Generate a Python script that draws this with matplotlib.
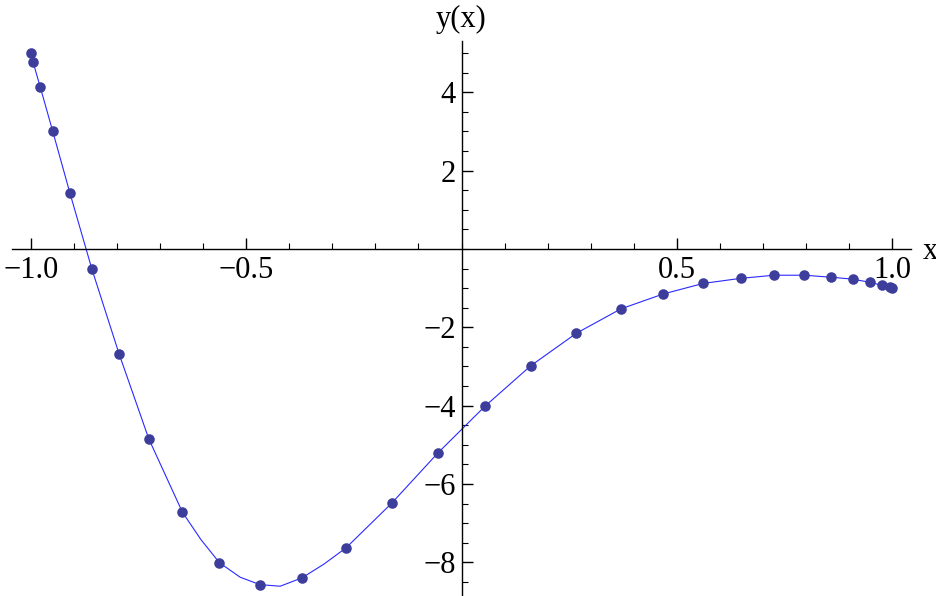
import numpy as np
import matplotlib.pyplot as plt

# sample points
x = [-1.0, -0.995, -0.978, -0.949, -0.909, -0.858, -0.795, -0.726, -0.648,
     -0.562, -0.468, -0.371, -0.268, -0.162, -0.055, 0.055, 0.161, 0.267,
     0.370, 0.468, 0.561, 0.648, 0.726, 0.796, 0.857, 0.908, 0.948, 0.977,
     0.994, 1.0]
y = [5.01, 4.78, 4.13, 3.00, 1.42, -0.52, -2.68, -4.85, -6.72,
     -8.01, -8.57, -8.40, -7.63, -6.49, -5.21, -4.01, -2.98, -2.15,
     -1.53, -1.15, -0.88, -0.75, -0.67, -0.67, -0.72, -0.77, -0.85, -0.93,
     -0.98, -1.00]

# extra readings of the smooth curve between the dots near the minimum
curve_x_extra = [-0.605, -0.514, -0.421, -0.320]
curve_y_extra = [-7.42, -8.38, -8.61, -8.05]

xticks = [-1.0, -0.5, 0.5, 1.0]
xticklabels = ['\u22121.0', '\u22120.5', '0.5', '1.0']
yticks = [-8, -6, -4, -2, 2, 4]
yticklabels = ['\u22128', '\u22126', '\u22124', '\u22122', '2', '4']

plt.rcParams['font.family'] = ['Liberation Serif', 'DejaVu Serif']

cx = np.array(x + curve_x_extra)
cy = np.array(y + curve_y_extra)
order = np.argsort(cx)
cx, cy = cx[order], cy[order]

W, H = 937, 596
fig = plt.figure(figsize=(W / 100, H / 100), dpi=100)
# axes box in pixels: left 12.3, right 910.7, top 41, bottom 596
ax = fig.add_axes([12.3 / W, 0.0, (910.7 - 12.3) / W, (596 - 41) / H])
ax.set_xlim(-1.043, 1.043)
ax.set_ylim(-8.86, 5.31)

ax.plot(cx, cy, color='#2a2aff', linewidth=0.8, zorder=2)
ax.plot(x, y, linestyle='none', marker='o', markersize=7.6,
        color='#3d3d9c', markeredgewidth=0, zorder=3)

for s in ['top', 'right']:
    ax.spines[s].set_visible(False)
for s in ['left', 'bottom']:
    ax.spines[s].set_position(('data', 0))
    ax.spines[s].set_linewidth(1.0)
    ax.spines[s].set_color('black')

ax.set_xticks(xticks)
ax.set_xticklabels(xticklabels)
ax.set_xticks(np.round(np.arange(-1.0, 1.01, 0.1), 2), minor=True)
ax.set_yticks(yticks)
ax.set_yticklabels(yticklabels)
ax.set_yticks(np.arange(-8.5, 5.1, 0.5), minor=True)

ax.tick_params(axis='both', which='major', direction='in', length=8,
               width=1.0, labelsize=22, pad=5)
ax.tick_params(axis='both', which='minor', direction='in', length=4.5,
               width=0.8)
ax.tick_params(axis='y', which='major', pad=4)

ax.text(1.089, -0.07, 'x', fontsize=22, ha='center', va='center',
        clip_on=False)
ax.text(0.0, 5.87, 'y(x)', fontsize=22, ha='center', va='center',
        clip_on=False)

plt.savefig('out.png', dpi=100)
plt.close()
